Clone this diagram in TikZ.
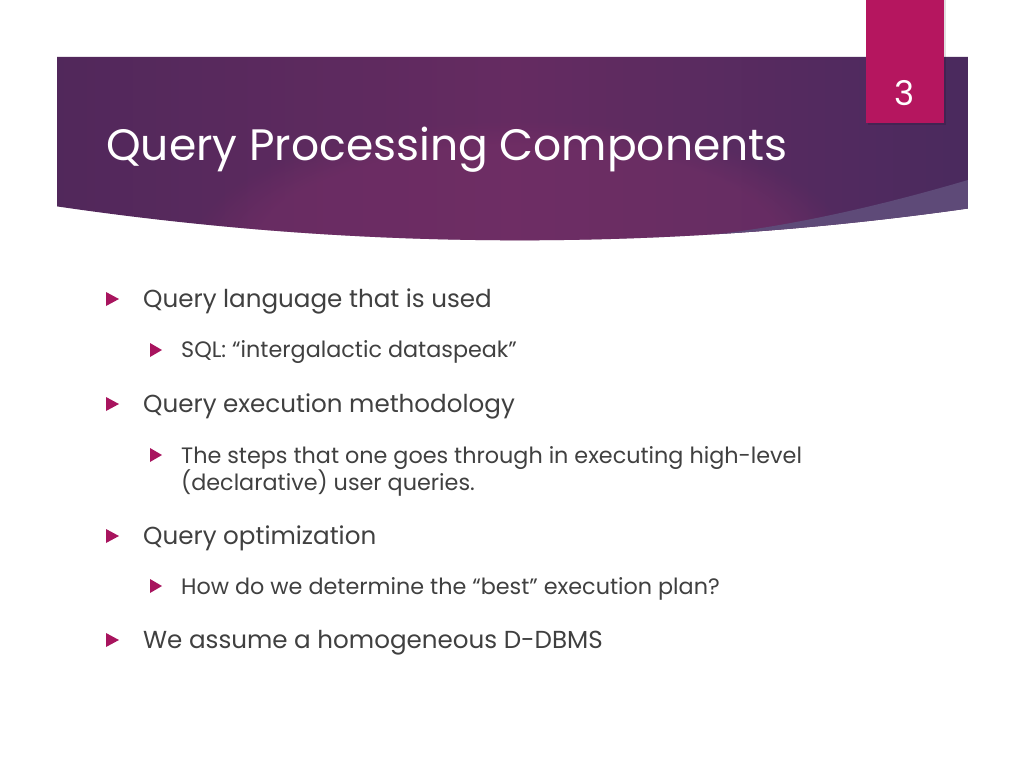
\documentclass[tikz,border=0pt]{standalone}
\usepackage{fontspec}
\setmainfont{Poppins}
\usetikzlibrary{fadings}
\definecolor{txt}{HTML}{404040}
\definecolor{mag}{HTML}{A8145E}
\definecolor{pagebox}{HTML}{B5165F}
\definecolor{bnL}{HTML}{442657}
\definecolor{bnM}{HTML}{652B61}
\definecolor{bnU}{HTML}{4A2A5E}
\definecolor{bnR}{HTML}{32234B}
\definecolor{bnP}{HTML}{7A3068}
\definecolor{swoosh}{HTML}{5E4A78}
\pgfdeclarehorizontalshading{bannershade}{100bp}{color(0bp)=(bnL); color(25bp)=(bnL!60!bnM); color(50bp)=(bnM); color(75bp)=(bnU); color(90bp)=(bnR!70!bnU); color(100bp)=(bnR)}
\begin{document}
\begin{tikzpicture}[x=1pt,y=-1pt,
  main/.style={anchor=base west,text=txt,font=\fontsize{24.6}{29}\selectfont,inner sep=0pt},
  sub/.style={anchor=base west,text=txt,font=\fontsize{22.3}{27}\selectfont,inner sep=0pt,align=left},
  bul/.style={fill=mag,draw=none}]
\useasboundingbox (0,0) rectangle (1024,768);
\fill[white] (0,0) rectangle (1024,768);
% banner
\begin{scope}
\clip (57,57) -- (968,57) -- (968,208.5) .. controls (664.3,251.6) and (360.7,250.9) .. (57,206.4) -- cycle;
\shade[shading=bannershade] (57,57) rectangle (968,260);
\fill[bnP,opacity=0.45,path fading=circle with fuzzy edge 20 percent] (520,250) ellipse (330 and 130);
\fill[swoosh] (700,236) .. controls (800,226) and (900,200) .. (968,180) -- (968,270) -- (700,270) -- cycle;
\end{scope}
% page number
\fill[black,opacity=0.12] (868,0) rectangle (946,125);
\fill[pagebox] (866,0) rectangle (944,123);
\node[text=white,font=\fontsize{34}{40}\selectfont] (pn) at (904,93) {3};
% title
\node[anchor=base west,text=white,font=\fontsize{44}{50}\selectfont,inner sep=0pt] (title) at (106,160) {Query Processing Components};
% bullets
\fill[bul] (106,292) -- (119,299) -- (106,306) -- cycle;
\node[main] (l1) at (143,307) {Query language that is used};
\fill[bul] (150,343) -- (162,350) -- (150,357) -- cycle;
\node[sub] (l2) at (181,357) {SQL: “intergalactic dataspeak”};
\fill[bul] (106,397) -- (119,404) -- (106,411) -- cycle;
\node[main] (l3) at (143,412) {Query execution methodology};
\fill[bul] (150,448) -- (162,455) -- (150,462) -- cycle;
\node[sub] (l4) at (181,463) {The steps that one goes through in executing high-level};
\node[sub] (l4b) at (181,490) {(declarative) user queries.};
\fill[bul] (106,529) -- (119,536) -- (106,543) -- cycle;
\node[main] (l5) at (143,544) {Query optimization};
\fill[bul] (150,579) -- (162,586) -- (150,593) -- cycle;
\node[sub] (l6) at (181,594) {How do we determine the “best” execution plan?};
\fill[bul] (106,633) -- (119,640) -- (106,647) -- cycle;
\node[main] (l7) at (143,648) {We assume a homogeneous D-DBMS};
\end{tikzpicture}
\end{document}
